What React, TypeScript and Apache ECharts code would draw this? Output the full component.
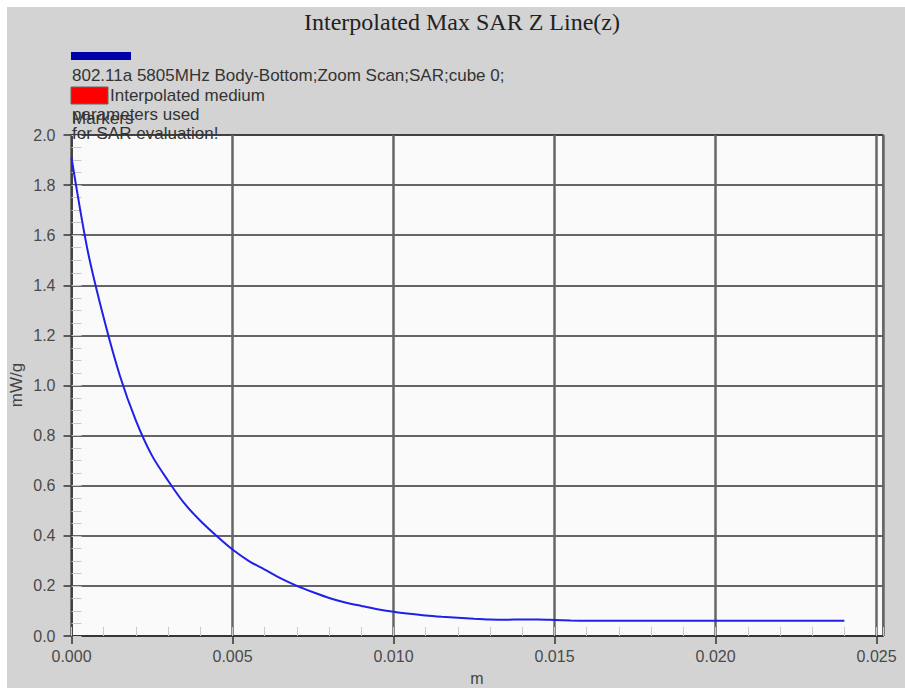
import React, { useEffect, useRef } from "react";
import * as echarts from "echarts";

const TITLE = "Interpolated Max SAR Z Line(z)";
const LEGEND_LINE = "802.11a 5805MHz Body-Bottom;Zoom Scan;SAR;cube 0;";
const LEGEND_RED = "Interpolated medium";
const LEGEND_EXTRA_1 = "parameters used";
const LEGEND_EXTRA_2 = "Markers";
const LEGEND_EXTRA_3 = "for SAR evaluation!";
const X_NAME = "m";
const Y_NAME = "mW/g";

// distance in mm -> converted to m
const distMm = [
  0, 0.5, 1.0, 1.5, 2.0, 2.5, 3.0, 3.5, 4.0, 4.5, 5.0, 5.5, 6.0, 6.5, 7.0, 7.5,
  8.0, 8.5, 9.0, 9.5, 10.0, 10.5, 11.0, 11.5, 12.0, 12.5, 13.0, 13.5, 14.0,
  14.5, 15.0, 15.5, 16.0, 17.0, 18.0, 19.0, 20.0, 21.0, 22.0, 23.0, 24.0,
];
const sarValues = [
  1.91, 1.54, 1.27, 1.04, 0.86, 0.72, 0.62, 0.53, 0.46, 0.4, 0.345, 0.3, 0.265,
  0.23, 0.2, 0.175, 0.152, 0.134, 0.12, 0.107, 0.097, 0.089, 0.082, 0.077,
  0.073, 0.069, 0.066, 0.065, 0.066, 0.066, 0.064, 0.062, 0.061, 0.061, 0.061,
  0.061, 0.061, 0.061, 0.061, 0.061, 0.061,
];

const X_MAX = 0.0252;

export default function App() {
  const ref = useRef<HTMLDivElement>(null);
  useEffect(() => {
    if (!ref.current) return;
    const chart = echarts.init(ref.current, null, { renderer: "svg" });
    const data = distMm.map((d, i) => [d / 1000, sarValues[i]]);
    const sans = "'Liberation Sans', Arial, sans-serif";
    const labelColor = "#4a4a4a";
    const legendFont = `17px ${sans}`;
    chart.setOption({
      animation: false,
      backgroundColor: "#ffffff",
      graphic: [
        {
          type: "rect",
          shape: { x: 7, y: 7, width: 898, height: 681 },
          style: { fill: "#d3d3d3" },
          z: -10,
          silent: true,
        },
        {
          type: "text",
          x: 462,
          y: 22,
          style: {
            text: TITLE,
            font: "24px 'Liberation Serif', 'Times New Roman', serif",
            fill: "#222",
            align: "center",
            verticalAlign: "middle",
          },
        },
        {
          type: "rect",
          shape: { x: 71, y: 52, width: 60, height: 8 },
          style: { fill: "#0000a8" },
        },
        {
          type: "text",
          x: 72,
          y: 75,
          style: {
            text: LEGEND_LINE,
            font: legendFont,
            fill: "#333",
            verticalAlign: "middle",
          },
        },
        {
          type: "rect",
          shape: { x: 71, y: 87, width: 37, height: 17 },
          style: { fill: "#ff0000", stroke: "#666", lineWidth: 1 },
        },
        {
          type: "text",
          x: 110,
          y: 95,
          style: {
            text: LEGEND_RED,
            font: legendFont,
            fill: "#333",
            verticalAlign: "middle",
          },
        },
        {
          type: "text",
          x: 72,
          y: 118,
          style: {
            text: LEGEND_EXTRA_2,
            font: legendFont,
            fill: "#333",
            verticalAlign: "middle",
          },
        },
        {
          type: "text",
          x: 72,
          y: 114,
          style: {
            text: LEGEND_EXTRA_1,
            font: legendFont,
            fill: "#333",
            verticalAlign: "middle",
          },
        },
        {
          type: "text",
          x: 72,
          y: 133,
          style: {
            text: LEGEND_EXTRA_3,
            font: legendFont,
            fill: "#333",
            verticalAlign: "middle",
          },
          z: 100,
        },
        {
          type: "text",
          x: 477,
          y: 678,
          style: {
            text: X_NAME,
            font: `16px ${sans}`,
            fill: "#444",
            align: "center",
            verticalAlign: "middle",
          },
        },
        {
          type: "text",
          x: 16,
          y: 385,
          rotation: Math.PI / 2,
          style: {
            text: Y_NAME,
            font: `17px ${sans}`,
            fill: "#444",
            align: "center",
            verticalAlign: "middle",
          },
        },
      ],
      grid: {
        left: 71.5,
        top: 135,
        right: 22,
        bottom: 53,
        show: true,
        backgroundColor: "#fafafa",
        borderColor: "#444",
        borderWidth: 1.5,
      },
      xAxis: [
        {
          type: "value",
          min: 0,
          max: X_MAX,
          interval: 0.005,
          position: "bottom",
          axisLine: { show: true, onZero: false, lineStyle: { color: "#333", width: 1.5 } },
          axisTick: { show: true, inside: false, length: 8, lineStyle: { color: "#333", width: 1.5 } },
          axisLabel: {
            color: labelColor,
            fontSize: 16,
            fontFamily: sans,
            margin: 12,
            showMaxLabel: false,
            formatter: (v: number) =>
              Math.abs(v / 0.005 - Math.round(v / 0.005)) < 1e-6 ? v.toFixed(3) : "",
          },
          splitLine: { show: true, lineStyle: { color: "#666", width: 2.5 } },
        },
        {
          type: "value",
          min: 0,
          max: X_MAX,
          interval: 0.001,
          position: "bottom",
          axisLine: { show: false },
          axisTick: { show: true, inside: true, length: 9, lineStyle: { color: "#c8c8c8", width: 1 } },
          axisLabel: { show: false },
          splitLine: { show: false },
        },
      ],
      yAxis: [
        {
          type: "value",
          min: 0,
          max: 2,
          interval: 0.2,
          position: "left",
          axisLine: { show: true, onZero: false, lineStyle: { color: "#333", width: 1.5 } },
          axisTick: { show: true, inside: false, length: 8, lineStyle: { color: "#333", width: 1.5 } },
          axisLabel: {
            color: labelColor,
            fontSize: 16,
            fontFamily: sans,
            margin: 16,
            formatter: (v: number) => v.toFixed(1),
          },
          splitLine: { show: true, lineStyle: { color: "#333", width: 1.5 } },
        },
        {
          type: "value",
          min: 0,
          max: 2,
          interval: 0.05,
          position: "left",
          axisLine: { show: false },
          axisTick: { show: true, inside: true, length: 10, lineStyle: { color: "#c8c8c8", width: 1 } },
          axisLabel: { show: false },
          splitLine: { show: false },
        },
      ],
      series: [
        {
          type: "line",
          xAxisIndex: 0,
          yAxisIndex: 0,
          data,
          smooth: 0.3,
          showSymbol: false,
          lineStyle: { color: "#2020e8", width: 2 },
          z: 5,
        },
      ],
    });
    return () => chart.dispose();
  }, []);
  return (
    <div
      ref={ref}
      style={{ position: "fixed", left: 0, top: 0, width: 905, height: 689 }}
    />
  );
}
